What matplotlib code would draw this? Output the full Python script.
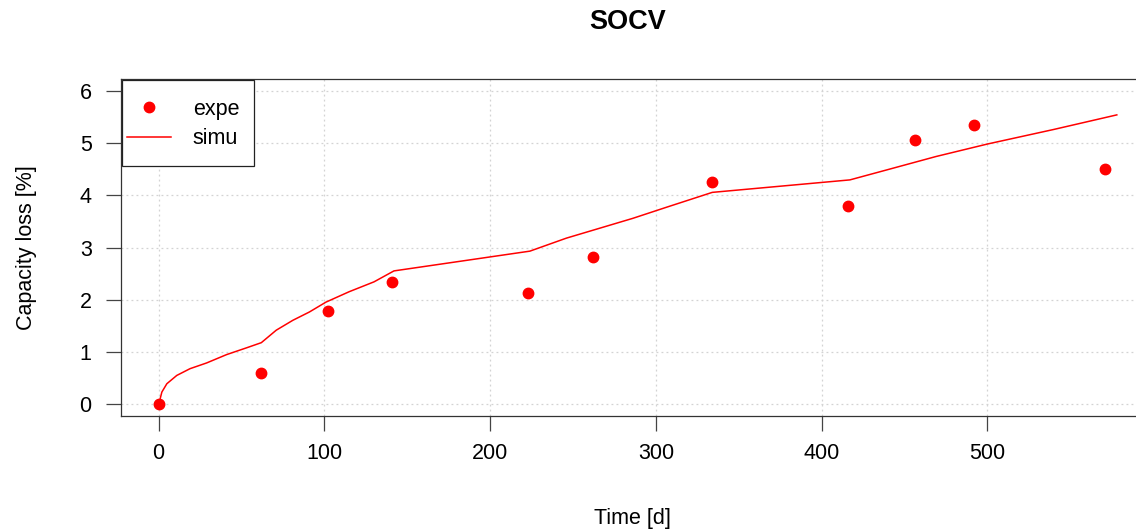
import matplotlib
matplotlib.use("Agg")
import matplotlib.pyplot as plt
from matplotlib.patches import Rectangle

plt.rcParams['font.family'] = ['Liberation Sans', 'DejaVu Sans']

# measured points (expe)
time_expe = [0, 62, 102, 141, 223, 262, 334, 416, 456, 492, 571]
loss_expe = [0.0, 0.58, 1.77, 2.33, 2.12, 2.81, 4.26, 3.79, 5.06, 5.35, 4.51]

# simulated curve (simu)
time_simu = [0, 0.5, 2, 5, 11, 19, 29, 41, 53, 62, 71, 81, 91, 101, 115, 130,
             142, 224, 246, 266, 286, 306, 334, 417, 439, 469, 500, 540, 578]
loss_simu = [0.0, 0.03, 0.22, 0.38, 0.54, 0.67, 0.78, 0.94, 1.07, 1.17, 1.41,
             1.60, 1.76, 1.95, 2.15, 2.34, 2.55, 2.93, 3.18, 3.37, 3.56, 3.77,
             4.06, 4.30, 4.49, 4.75, 4.99, 5.27, 5.55]

x_ticks = [0, 100, 200, 300, 400, 500]
y_ticks = [0, 1, 2, 3, 4, 5, 6]

W, H = 1136, 531
fig = plt.figure(figsize=(W / 100, H / 100), dpi=100)
# plot region in pixels: left 120.6, right 1144.8, top 79, bottom 416
ax = fig.add_axes([120.6 / W, (H - 416) / H, (1144.8 - 120.6) / W, (416 - 79) / H])

fs = 15.5
ax.set_xlim(-22.88, 594.88)
ax.set_ylim(-0.24, 6.24)

for x in x_ticks:
    ax.axvline(x, color='#d3d3d3', lw=0.9, ls=(0, (1.5, 2.5)), zorder=0)
for y in y_ticks:
    ax.axhline(y, color='#d3d3d3', lw=0.9, ls=(0, (1.5, 2.5)), zorder=0)

ax.plot(time_expe, loss_expe, 'o', color='red', markersize=7.5, label='expe', zorder=3)
ax.plot(time_simu, loss_simu, '-', color='red', lw=1.1, label='simu', zorder=2)

ax.set_xticks(x_ticks)
ax.set_yticks(y_ticks)
ax.tick_params(length=10.8, width=0.9, color='#444444', labelsize=fs)
ax.tick_params(axis='x', pad=8.5)
ax.tick_params(axis='y', pad=10)
for s in ax.spines.values():
    s.set_color('#333333')
    s.set_linewidth(0.9)

ax.set_xlabel('Time [d]', fontsize=fs)
ax.xaxis.set_label_coords(0.5, -0.3027)
ax.xaxis.label.set_va('center')
ax.set_ylabel('Capacity loss [%]', fontsize=fs)
ax.yaxis.set_label_coords(-0.0914, 0.5)
ax.yaxis.label.set_va('center')

ax.text(0.495, 1.169, 'SOCV', transform=ax.transAxes, ha='center', va='center',
        fontsize=19.5, fontweight='bold')

# legend box like R's legend()
ax.add_patch(Rectangle((0.001, 0.742), 0.1295, 0.255, transform=ax.transAxes,
                       facecolor='white', edgecolor='#222222', lw=0.9, zorder=4))
leg = ax.legend(loc='upper left', bbox_to_anchor=(0.0, 0.961), frameon=False,
                fontsize=fs, handlelength=2.05, handletextpad=1.0,
                borderpad=0.3, labelspacing=0.4, borderaxespad=0)
leg.set_zorder(5)

fig.savefig('out.png', dpi=100)
